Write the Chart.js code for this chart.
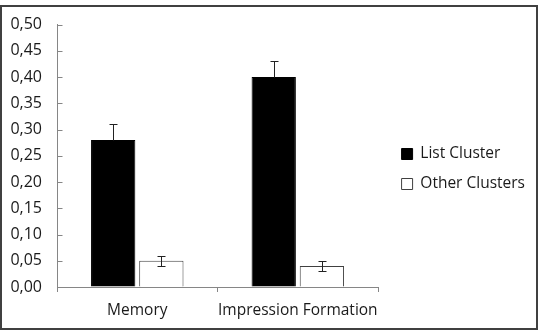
<!DOCTYPE html>
<html>
<head>
<meta charset="utf-8">
<script src="https://cdn.jsdelivr.net/npm/chart.js@4.4.0/dist/chart.umd.min.js"></script>
<style>
html, body { margin: 0; padding: 0; background: #fff; }
#wrap { position: relative; width: 542px; height: 333px; }
#c { position: absolute; left: 0; top: 0; }
#frame { position: absolute; left: 0; top: 5px; width: 534px; height: 321px; border: 2px solid #404040; pointer-events: none; }
</style>
</head>
<body>
<div id="wrap">
  <canvas id="c" width="542" height="333"></canvas>
  <div id="frame"></div>
</div>
<script>
const categories = ['Memory', 'Impression Formation']
const listCluster = [0.28, 0.40]
const otherClusters = [0.05, 0.04]
const listErr = [0.03, 0.03]
const otherErr = [0.01, 0.01]
const yMin = 0
const yMax = 0.5
const yStep = 0.05

const axisColor = '#868686'
const textColor = '#1a1a1a'
const tickFont = { family: 'Open Sans', size: 16 }
const font = { family: 'Open Sans', size: 15.5 }

// error bars drawn from the bar scale
const errorBars = {
  id: 'errorBars',
  afterDatasetsDraw(chart) {
    const ctx = chart.ctx
    const y = chart.scales.y
    const errs = [listErr, otherErr]
    ctx.save()
    ctx.strokeStyle = '#222'
    ctx.lineWidth = 1
    chart.data.datasets.forEach((ds, i) => {
      const solid = ds.backgroundColor == '#000' // lower half is hidden in a black bar
      chart.getDatasetMeta(i).data.forEach((bar, j) => {
        const v = ds.data[j], e = errs[i][j]
        const top = Math.round(y.getPixelForValue(v + e)) + 0.5
        const bot = Math.round(y.getPixelForValue(solid ? v : v - e)) + 0.5
        const x = Math.round(bar.x) + 0.5
        ctx.beginPath()
        ctx.moveTo(x, top); ctx.lineTo(x, bot)
        ctx.moveTo(x - 4, top); ctx.lineTo(x + 4, top)
        if (!solid) { ctx.moveTo(x - 4, bot); ctx.lineTo(x + 4, bot) }
        ctx.stroke()
      })
    })
    ctx.restore()
  }
}

// y ticks point inward like the original
const innerTicks = {
  id: 'innerTicks',
  afterDraw(chart) {
    const ctx = chart.ctx
    const y = chart.scales.y
    const left = Math.round(chart.chartArea.left) + 0.5
    ctx.save()
    ctx.strokeStyle = axisColor
    ctx.lineWidth = 1
    ctx.beginPath()
    y.ticks.forEach(t => {
      const py = Math.round(y.getPixelForValue(t.value)) + 0.5
      ctx.moveTo(left, py); ctx.lineTo(left + 5, py)
    })
    ctx.stroke()
    ctx.restore()
  }
}

new Chart(document.getElementById('c'), {
  type: 'bar',
  data: {
    labels: categories,
    datasets: [{
      label: 'List Cluster',
      data: listCluster,
      backgroundColor: '#000',
      borderColor: '#000',
      borderWidth: 1,
      categoryPercentage: 0.6,
      barPercentage: 0.92
    }, {
      label: 'Other Clusters',
      data: otherClusters,
      backgroundColor: '#fff',
      borderColor: '#404040',
      borderWidth: 1,
      categoryPercentage: 0.6,
      barPercentage: 0.92
    }]
  },
  options: {
    responsive: false,
    animation: false,
    devicePixelRatio: 1,
    layout: { padding: { left: 9, top: 12, right: 7, bottom: 13 } },
    plugins: {
      legend: {
        position: 'right',
        maxWidth: 200,
        title: { display: true, text: ' ', padding: 0, font: { size: 5 } }, // nudges items down a bit
        labels: {
          boxWidth: 11,
          boxHeight: 11,
          padding: 14.5,
          color: textColor,
          font: font
        }
      },
      tooltip: { enabled: false }
    },
    scales: {
      x: {
        grid: { drawOnChartArea: false, tickLength: 5, color: axisColor },
        border: { color: axisColor },
        ticks: { color: textColor, font: font, padding: 9, maxRotation: 0, autoSkip: false },
        afterFit: s => { s.height = 33; s.paddingLeft = 0; s.paddingRight = 0 }
      },
      y: {
        min: yMin,
        max: yMax,
        grid: { drawOnChartArea: false, drawTicks: false },
        border: { color: axisColor },
        ticks: {
          stepSize: yStep,
          color: textColor,
          font: tickFont,
          padding: 15,
          callback: v => v.toFixed(2).replace('.', ',')
        },
        afterFit: s => { s.width = 48 }
      },
      gap: { // empty spacer between plot and legend
        type: 'linear',
        axis: 'y',
        position: 'right',
        grid: { display: false },
        border: { display: false },
        ticks: { display: false },
        afterFit: s => { s.width = 9 }
      }
    }
  },
  plugins: [errorBars, innerTicks]
})
</script>
</body>
</html>
